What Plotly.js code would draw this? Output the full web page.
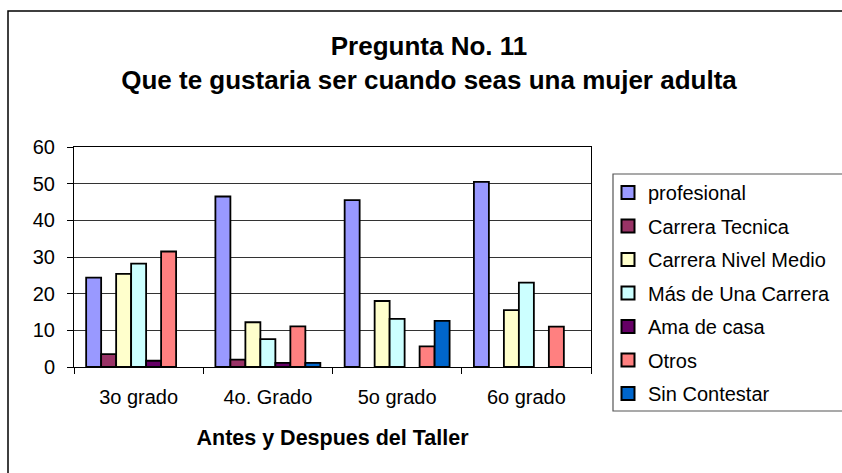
<!DOCTYPE html>
<html>
<head>
<meta charset="utf-8">
<script src="https://cdn.plot.ly/plotly-3.0.1.min.js"></script>
<style>html,body{margin:0;padding:0;background:#fff;}#chart{width:842px;height:473px;}</style>
</head>
<body>
<div id="chart"></div>
<script>
var categories = ["3o grado", "4o. Grado", "5o grado", "6o grado"];
var seriesNames = ["profesional", "Carrera Tecnica", "Carrera Nivel Medio", "Más de Una Carrera", "Ama de casa", "Otros", "Sin Contestar"];
var profesional = [24.4, 46.5, 45.5, 50.5];
var carreraTecnica = [3.5, 2.0, null, null];
var carreraNivelMedio = [25.4, 12.2, 18.0, 15.5];
var masDeUnaCarrera = [28.2, 7.6, 13.1, 23.0];
var amaDeCasa = [1.7, 1.1, null, null];
var otros = [31.5, 11.1, 5.6, 11.0];
var sinContestar = [null, 1.1, 12.6, null];
var yTicks = [0, 10, 20, 30, 40, 50, 60];

var seriesValues = [profesional, carreraTecnica, carreraNivelMedio, masDeUnaCarrera, amaDeCasa, otros, sinContestar];
var colors = ["#9999FF", "#993366", "#FFFFCC", "#CCFFFF", "#660066", "#FF8080", "#0066CC"];

var traces = seriesNames.map(function (name, i) {
  return {
    type: "bar",
    name: name,
    x: categories,
    y: seriesValues[i],
    legendgroup: "g" + i,
    showlegend: false,
    marker: { color: colors[i], line: { color: "#000", width: 1.8 } },
    hoverinfo: "x+y+name"
  };
});
// legend keys (square swatches like the original legend)
seriesNames.forEach(function (name, i) {
  traces.push({
    type: "scatter",
    mode: "markers",
    name: name,
    x: [categories[0]],
    y: [null],
    legendgroup: "g" + i,
    showlegend: true,
    hoverinfo: "skip",
    marker: { symbol: "square", size: 13, color: colors[i], line: { color: "#000", width: 2 } }
  });
});

var W = 842, H = 473;
var L = 74, R = 591, T = 147, B = 367;
function px2x(p) { return (p - L) / (R - L); }
function px2y(p) { return (B - p) / (B - T); }

var layout = {
  width: W, height: H,
  margin: { l: L, r: W - R, t: T, b: H - B, pad: 0 },
  paper_bgcolor: "#fff",
  plot_bgcolor: "#fff",
  font: { family: "Liberation Sans, Arial, sans-serif", color: "#000", size: 20 },
  barmode: "group",
  bargap: 0.188,
  bargroupgap: 0,
  title: {
    text: "<b>Pregunta No. 11<br>Que te gustaria ser cuando seas una mujer adulta</b>",
    font: { size: 26, color: "#000" },
    x: 429 / W, xref: "container", xanchor: "center",
    y: 1 - 55 / H, yref: "container", yanchor: "middle"
  },
  xaxis: {
    type: "category",
    categoryarray: categories,
    tickson: "boundaries",
    ticks: "outside", ticklen: 6, tickcolor: "#000", tickwidth: 1,
    showline: true, linecolor: "#000", linewidth: 1, mirror: true,
    showgrid: false,
    ticklabelstandoff: 12,
    tickfont: { size: 20 },
    title: { text: "<b>Antes y Despues del Taller</b>", font: { size: 21.5 }, standoff: 22 }
  },
  yaxis: {
    range: [0, 60],
    tickvals: yTicks,
    ticks: "outside", ticklen: 6, tickcolor: "#000", tickwidth: 1,
    showline: true, linecolor: "#000", linewidth: 1, mirror: true,
    showgrid: true, gridcolor: "#333", gridwidth: 1,
    zeroline: false,
    ticklabelstandoff: 8,
    tickfont: { size: 20 }
  },
  showlegend: true,
  legend: {
    xref: "container", yref: "container",
    x: 608 / W, y: 1 - 173 / H, xanchor: "left", yanchor: "top",
    bgcolor: "rgba(0,0,0,0)", borderwidth: 0,
    font: { size: 20 },
    tracegroupgap: 4.5,
    traceorder: "grouped",
    itemwidth: 30
  },
  shapes: [
    { type: "rect", xref: "paper", yref: "paper",
      x0: px2x(8), x1: px2x(900), y0: px2y(11), y1: px2y(520),
      line: { color: "#000", width: 1.5 }, fillcolor: "rgba(0,0,0,0)", layer: "below" },
    { type: "rect", xref: "paper", yref: "paper",
      x0: px2x(613), x1: px2x(900), y0: px2y(174), y1: px2y(411),
      line: { color: "#555", width: 1.2 }, fillcolor: "rgba(0,0,0,0)", layer: "below" }
  ]
};

Plotly.newPlot("chart", traces, layout, { displayModeBar: false, staticPlot: true });
</script>
</body>
</html>
